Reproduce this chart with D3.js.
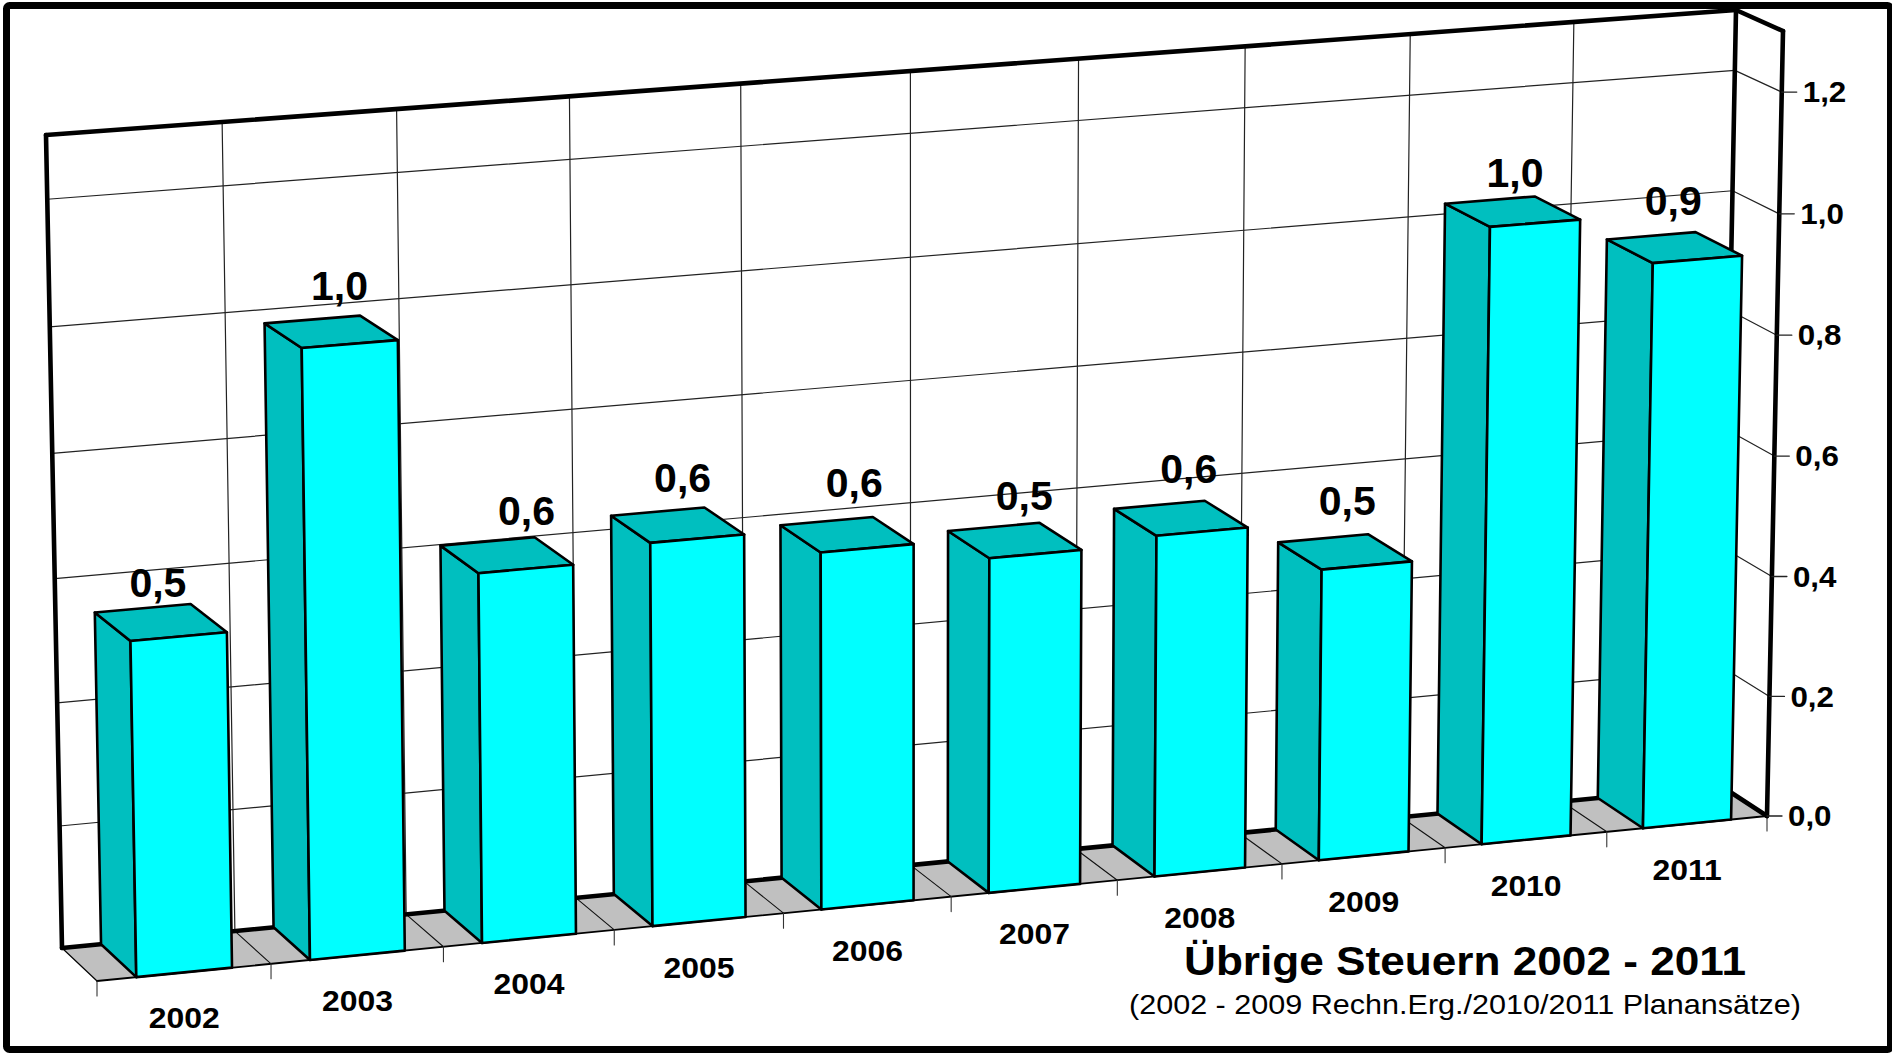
<!DOCTYPE html>
<html><head><meta charset="utf-8">
<script src="https://cdnjs.cloudflare.com/ajax/libs/d3/7.8.5/d3.min.js"></script>
<style>html,body{margin:0;padding:0;background:#fff;overflow:hidden}svg{display:block}
text{font-family:"Liberation Sans",Arial,sans-serif;fill:#000}</style></head><body>
<svg id="c" width="1892" height="1053"></svg>
<script>
const categories=["2002","2003","2004","2005","2006","2007","2008","2009","2010","2011"];
const values=[0.54,0.978,0.598,0.622,0.582,0.548,0.56,0.48,1.017,0.936];
const yTicks=[0,0.2,0.4,0.6,0.8,1.0,1.2];
const title="Übrige Steuern 2002 - 2011";
const subtitle="(2002 - 2009 Rechn.Erg./2010/2011 Planansätze)";
const yMax=1.3;
const labelNudgeX=[0,11,22,7,9,11,9,3,3,-1];
const labelNudgeY=[2,-4,-1,-4,-7,1,-3,-4,9,2];

const C={BBL:[62,948],BBR:[1721,786],BTL:[46,135],BTR:[1736,10],
         FBL:[97,981],FBR:[1767,816],FTL:[82,157],FTR:[1783,31]};
const k=0.047;
const persp=u=>u*(1+k)/(1+k*u);
const yS=d3.scaleLinear().domain([0,yMax]).range([0,1]);
const xBand=d3.scaleBand().domain(categories).range([0,1]).paddingInner(0.45).paddingOuter(0.225);
const mix=(a,b,t)=>[a[0]+(b[0]-a[0])*t,a[1]+(b[1]-a[1])*t];
function P(u,v,w){
  const U=persp(u),t=yS(v),M=0.029-0.017*U,V=t*(1-M)/(1-M*t);
  const back=mix(mix(C.BBL,C.BBR,U),mix(C.BTL,C.BTR,U),V);
  const front=mix(mix(C.FBL,C.FBR,U),mix(C.FTL,C.FTR,U),V);
  return mix(back,front,w);
}
const svg=d3.select("#c");
const path=d3.line();
const closed=pts=>path(pts)+"Z";
const seg=(g,a,b,sw,col="#000")=>g.append("line").attr("x1",a[0]).attr("y1",a[1]).attr("x2",b[0]).attr("y2",b[1])
  .attr("stroke",col).attr("stroke-width",sw).attr("stroke-linecap","round");

svg.append("rect").attr("x",6.5).attr("y",5.5).attr("width",1884).attr("height",1044).attr("rx",3)
  .attr("fill","#fff").attr("stroke","#000").attr("stroke-width",7);

const uTicks=d3.range(0,categories.length+1).map(i=>i/categories.length);
const grid=svg.append("g");
uTicks.slice(1,-1).forEach(u=>seg(grid,P(u,0,0),P(u,yMax,0),1.2,"#222"));
yTicks.slice(1).forEach(v=>{
  seg(grid,P(0,v,0),P(1,v,0),1.2,"#222");
  seg(grid,P(1,v,0),P(1,v,1),1.2,"#222");
});

const floor=svg.append("g");
floor.append("path").attr("d",closed([P(0,0,0),P(1,0,0),P(1,0,1),P(0,0,1)])).attr("fill","#c0c0c0");
uTicks.slice(1,-1).forEach(u=>seg(floor,P(u,0,0),P(u,0,1),1.1,"#111"));
seg(floor,P(0,0,0),P(0,0,1),1.2);
seg(floor,P(0,0,1),P(1,0,1),1.8);
uTicks.forEach(u=>{const p=P(u,0,1);seg(floor,p,[p[0],p[1]+15],1.1,"#333");});

const frame=svg.append("g");
[[[0,yMax,0],[1,yMax,0]],[[0,0,0],[0,yMax,0]],[[1,0,0],[1,yMax,0]],[[0,0,0],[1,0,0]],
 [[1,yMax,0],[1,yMax,1]],[[1,yMax,1],[1,0,1]],[[1,0,0],[1,0,1]]]
 .forEach(([a,b])=>seg(frame,P(...a),P(...b),4.6));

yTicks.forEach(v=>{
  const p=P(1,v,1);
  seg(frame,p,[p[0]+15,p[1]],1.3,"#222");
  svg.append("text").attr("transform",`translate(${p[0]+21},${p[1]}) scale(1.08,1)`).attr("dy","0.35em")
    .attr("font-size",29).attr("font-weight","bold").text(d3.format(".1f")(v).replace(".",","));
});

const bars=svg.append("g").selectAll("g").data(categories).join("g");
const fmt=d=>d3.format(".1f")(d).replace(".",",");
bars.each(function(c,i){
  const g=d3.select(this),v=values[i],a=xBand(c),b=a+xBand.bandwidth();
  const face=(pts,fill)=>g.append("path").attr("d",closed(pts)).attr("fill",fill)
    .attr("stroke","#000").attr("stroke-width",2.6).attr("stroke-linejoin","round");
  face([P(a,0,0),P(a,v,0),P(a,v,1),P(a,0,1)],"#00bfbf");
  face([P(a,v,0),P(b,v,0),P(b,v,1),P(a,v,1)],"#00bfbf");
  face([P(a,0,1),P(a,v,1),P(b,v,1),P(b,0,1)],"#00ffff");
});
bars.each(function(c,i){
  const v=values[i],m=xBand(c)+xBand.bandwidth()/2,p=P(m,v,0.5);
  svg.append("text").attr("x",p[0]-3+3*m+labelNudgeX[i]).attr("y",p[1]-27-7.5*m+labelNudgeY[i]).attr("text-anchor","middle")
    .attr("font-size",41).attr("font-weight","bold").text(fmt(v));
  const q=P(m,0,1);
  svg.append("text").attr("transform",`translate(${q[0]},${q[1]+56}) scale(1.1,1)`).attr("text-anchor","middle")
    .attr("font-size",29).attr("font-weight","bold").text(c);
});

svg.append("text").attr("x",1465).attr("y",975).attr("text-anchor","middle").attr("font-size",41)
  .attr("font-weight","bold").attr("textLength",562).attr("lengthAdjust","spacingAndGlyphs").text(title);
svg.append("text").attr("x",1465).attr("y",1014).attr("text-anchor","middle").attr("font-size",28)
  .attr("textLength",672).attr("lengthAdjust","spacingAndGlyphs").text(subtitle);
</script></body></html>
